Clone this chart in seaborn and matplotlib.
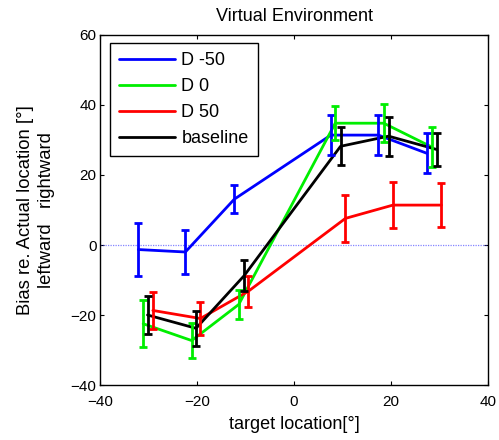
import matplotlib
matplotlib.use("Agg")
import matplotlib.pyplot as plt
import seaborn as sns
import pandas as pd
import numpy as np

sns.set_style("ticks")
plt.rcParams['font.family'] = ['Liberation Sans', 'DejaVu Sans']
plt.rcParams['text.color'] = 'black'
plt.rcParams['axes.labelcolor'] = 'black'
plt.rcParams['xtick.color'] = 'black'
plt.rcParams['ytick.color'] = 'black'

series = ["D -50", "D 0", "D 50", "baseline"]
colors = ["#0000ff", "#00ee00", "#ff0000", "#000000"]

x_dm50 = [-32.1, -22.4, -12.3, 7.6, 17.4, 27.4]
y_dm50 = [-1.3, -2.0, 13.1, 31.4, 31.4, 26.2]
e_dm50 = [7.5, 6.4, 4.0, 5.8, 5.8, 5.7]

x_d0 = [-31.1, -21.1, -11.4, 8.5, 18.5, 28.4]
y_d0 = [-22.5, -27.3, -17.0, 34.8, 34.8, 28.0]
e_d0 = [6.7, 5.1, 4.2, 4.9, 5.4, 5.8]

x_d50 = [-29.1, -19.3, -9.4, 10.6, 20.4, 30.4]
y_d50 = [-18.7, -21.0, -13.2, 7.6, 11.4, 11.4]
e_d50 = [5.2, 4.7, 4.4, 6.8, 6.5, 6.4]

x_base = [-30.2, -20.2, -10.3, 9.6, 19.5, 29.4]
y_base = [-20.0, -23.8, -8.8, 28.2, 31.1, 27.3]
e_base = [5.4, 5.0, 4.4, 5.4, 5.6, 4.6]

xs = [x_dm50, x_d0, x_d50, x_base]
ys = [y_dm50, y_d0, y_d50, y_base]
es = [e_dm50, e_d0, e_d50, e_base]

rows = []
for name, xv, yv, ev in zip(series, xs, ys, es):
    for a, b, c in zip(xv, yv, ev):
        rows.append({"series": name, "x": a, "y": b, "err": c})
df = pd.DataFrame(rows)

fig = plt.figure(figsize=(4.99, 4.40), dpi=100)
ax = fig.add_axes([100 / 499, 55 / 440, 388 / 499, 350 / 440])

ax.axhline(0, color="#3333ff", lw=0.9, ls=(0, (1, 1)), alpha=0.6, zorder=1)

sns.lineplot(data=df, x="x", y="y", hue="series", hue_order=series,
             palette=colors, sort=False, estimator=None, lw=2, ax=ax, zorder=3)

for name, col in zip(series, colors):
    sub = df[df.series == name]
    ax.errorbar(sub.x, sub.y, yerr=sub.err, fmt="none", ecolor=col,
                elinewidth=2, capsize=3, capthick=2, zorder=3)

ax.set_xlim(-40, 40)
ax.set_ylim(-40, 60)
ax.set_xticks([-40, -20, 0, 20, 40])
ax.set_yticks([-40, -20, 0, 20, 40, 60])
ax.tick_params(direction="in", length=3, labelsize=11, top=True, right=True,
               labeltop=False, labelright=False, width=0.8)
ax.tick_params(axis="x", pad=7.5)
ax.tick_params(axis="y", pad=2.5)
for s in ax.spines.values():
    s.set_linewidth(1.0)
    s.set_color("black")

ax.set_title("Virtual Environment", fontsize=13, pad=10)
ax.set_xlabel("target location[°]", fontsize=13, labelpad=5)
ax.set_ylabel("Bias re. Actual location [°]\nleftward   rightward", fontsize=13.3,
              labelpad=11, linespacing=1.35)

leg = ax.legend(loc="upper left", bbox_to_anchor=(10 / 388, 1 - 8 / 350),
                borderaxespad=0, fontsize=13,
                frameon=True, fancybox=False, edgecolor="black", framealpha=1,
                handlelength=3.1, borderpad=0.5, labelspacing=0.5, handletextpad=0.35)
leg.get_frame().set_linewidth(1.0)
for line in leg.get_lines():
    line.set_linewidth(2)

fig.savefig("out.png", dpi=100)
